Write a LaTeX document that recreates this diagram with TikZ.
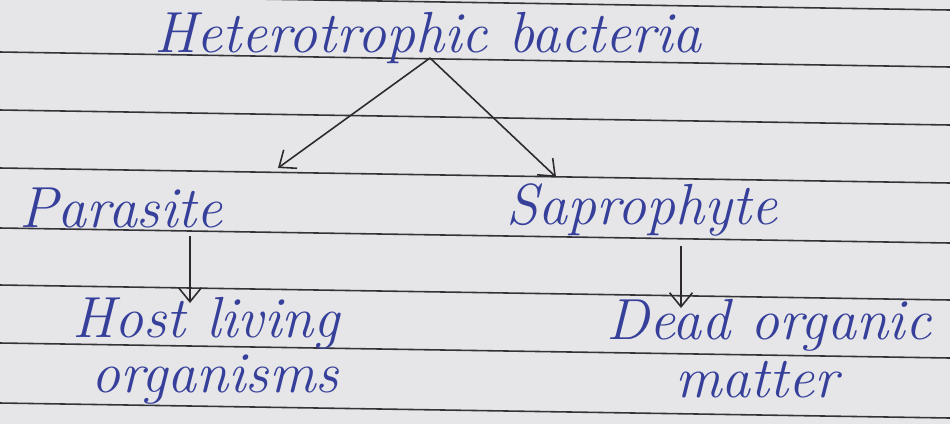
\documentclass[tikz,border=0pt]{standalone}
\usepackage{xcolor}
\usetikzlibrary{arrows.meta}
\definecolor{paper}{HTML}{E6E6E8}
\definecolor{rulegray}{HTML}{333338}
\definecolor{ink}{HTML}{36409A}
\definecolor{pencil}{HTML}{2E2A2C}

\begin{document}
\begin{tikzpicture}[x=0.02cm, y=-0.02cm,
		hand/.style={text=ink, font=\fontsize{33}{36}\selectfont\itshape, inner sep=0pt},
		pen/.style={draw=pencil, line width=0.9pt, -{Straight Barb[length=8pt, width=13pt]}}]
		\fill[paper] (0,0) rectangle (950,424);
		\clip (0,0) rectangle (950,424);

		% ruled lines of the page
		\foreach \y in {-5,52,110,168,228,285,343,403}
			\draw[rulegray, line width=0.9pt] (0,\y) -- (950,\y+15);

		\node[hand] (hb) at (428,38) {Heterotrophic bacteria};
		\node[hand] (par) at (121,208) {Parasite};
		\node[hand] (sap) at (642,210) {Saprophyte};
		\node[hand] (host) at (206,323) {Host living};
		\node[hand] (org) at (215,380) {organisms};
		\node[hand] (dead) at (769,325) {Dead organic};
		\node[hand] (mat) at (757,380) {matter};

		\coordinate (apex) at (430,58);
		\coordinate (lt) at (278,168);
		\coordinate (rt) at (556,177);
		\coordinate (pd) at (190,236);
		\coordinate (sd) at (681,246);

		\draw[pen] (apex) -- (lt);
		\draw[pen] (apex) -- (rt);
		\draw[pen] (pd) -- (pd |- 0,303);
		\draw[pen] (sd) -- (sd |- 0,308);
	\end{tikzpicture}
\end{document}
